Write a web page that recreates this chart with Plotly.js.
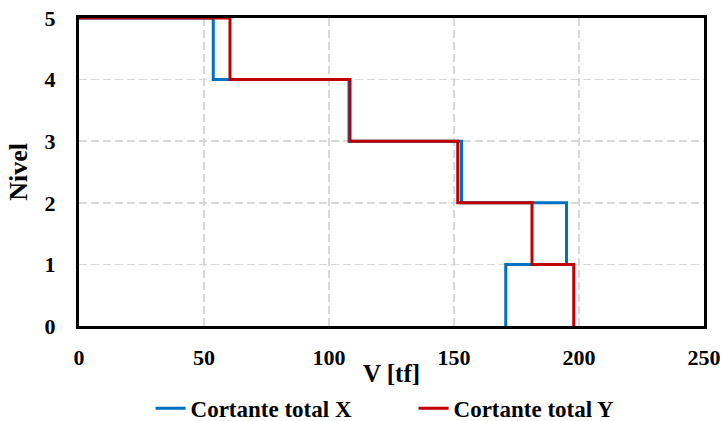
<!DOCTYPE html>
<html><head><meta charset="utf-8">
<script src="https://cdn.plot.ly/plotly-3.0.1.min.js"></script>
<style>html,body{margin:0;padding:0;background:#fff}#chart{width:723px;height:421px}</style>
</head><body><div id="chart"></div>
<script>
var niveles = [0, 1, 2, 3, 4, 5];
var cortanteX = [170.7, 195, 153, 108, 53.7];
var cortanteY = [197.9, 181.2, 151.5, 108.4, 60.4];
var xTicks = [0, 50, 100, 150, 200, 250];
var yTicks = [0, 1, 2, 3, 4, 5];

var fontFam = '"Liberation Serif", "Times New Roman", serif';
function b(s) { return '<b>' + s + '</b>'; }

var traces = [
  {x: cortanteX.concat([0]), y: niveles, mode: 'lines', name: b('Cortante total X'),
   line: {color: '#0070C0', width: 3, shape: 'vh'}},
  {x: cortanteY.concat([0]), y: niveles, mode: 'lines', name: b('Cortante total Y'),
   line: {color: '#C00000', width: 3, shape: 'vh'}}
];

var layout = {
  width: 723, height: 421,
  margin: {l: 79, r: 19, t: 18, b: 95},
  paper_bgcolor: '#fff', plot_bgcolor: '#fff',
  font: {family: fontFam, color: '#000', size: 18},
  xaxis: {
    range: [0, 250], tickvals: xTicks, ticktext: xTicks.map(function (v) { return b(v); }),
    showgrid: true, gridcolor: '#d9d9d9', griddash: '8px,4px', gridwidth: 1.5,
    zeroline: false, showline: true, linecolor: '#000', linewidth: 3, mirror: true,
    ticks: '', ticklabelstandoff: 10, automargin: false,
    tickfont: {family: fontFam, size: 22, color: '#000'},
    title: {text: b('V [tf]'), standoff: 0, font: {family: fontFam, size: 25, color: '#000'}}
  },
  yaxis: {
    range: [0, 5], tickvals: yTicks, ticktext: yTicks.map(function (v) { return b(v); }),
    showgrid: true, gridcolor: '#d9d9d9', griddash: '8px,4px', gridwidth: 1.5,
    zeroline: false, showline: true, linecolor: '#000', linewidth: 3, mirror: true,
    ticks: '', ticklabelstandoff: 16, automargin: false,
    tickfont: {family: fontFam, size: 22, color: '#000'},
    title: {text: b('Nivel'), standoff: 10, font: {family: fontFam, size: 26, color: '#000'}}
  },
  showlegend: true,
  legend: {orientation: 'h', xref: 'container', yref: 'container', x: 0.572, xanchor: 'center',
    y: 0.03, yanchor: 'middle', entrywidth: 218, entrywidthmode: 'pixels',
    font: {family: fontFam, size: 23, color: '#000'}, bgcolor: 'rgba(0,0,0,0)'}
};

Plotly.newPlot('chart', traces, layout, {displayModeBar: false, staticPlot: true});
</script>
</body></html>
